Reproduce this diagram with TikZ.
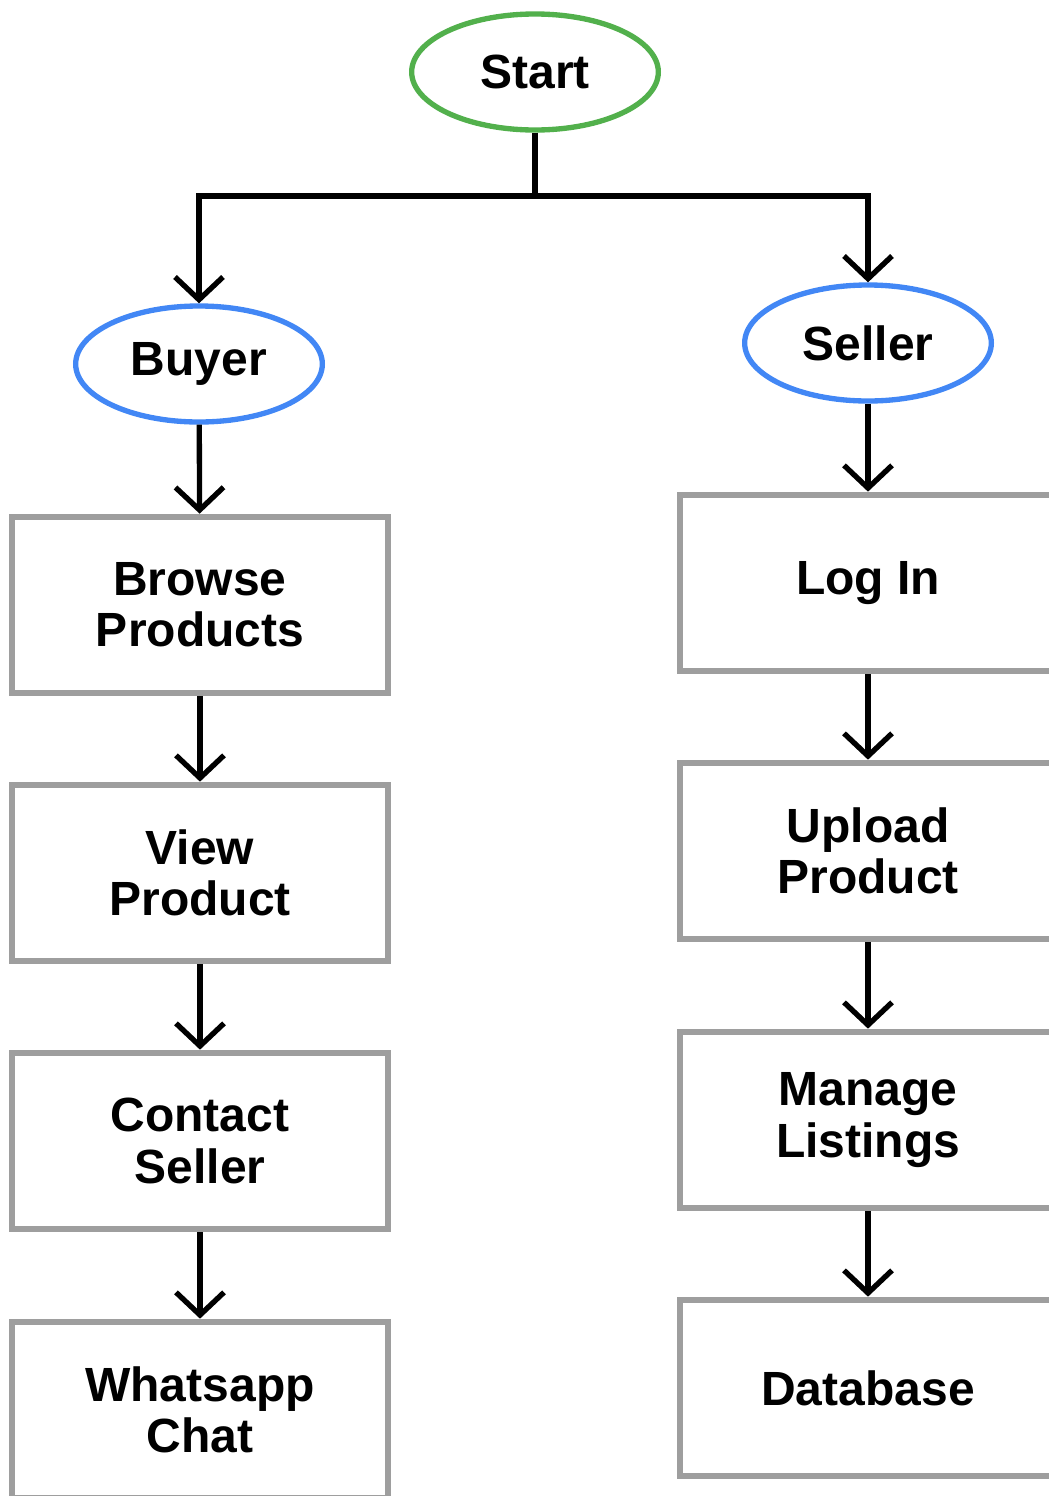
\documentclass[tikz,border=0pt]{standalone}
\usepackage{fontspec}
\setmainfont{Liberation Sans}
\usetikzlibrary{arrows.meta,shapes.geometric}
\definecolor{startgreen}{RGB}{82,176,76}
\definecolor{roleblue}{RGB}{66,135,245}
\definecolor{boxgray}{RGB}{158,158,158}

\begin{document}
\begin{tikzpicture}[x=0.75pt,y=-0.75pt,
    every node/.style={font=\fontsize{36}{38.5}\selectfont\bfseries, align=center},
    role/.style={ellipse, draw=roleblue, line width=4pt, minimum width=185pt, minimum height=87pt, inner sep=0pt},
    stepbox/.style={draw=boxgray, line width=5pt, minimum width=282pt, minimum height=132pt, inner sep=0pt},
    flow/.style={line width=4pt, -{Straight Barb[length=17pt,width=36pt]}}]
      \useasboundingbox (0,0) rectangle (1049,1496);
      \clip (0,0) rectangle (1049,1496);

      \node[role, draw=startgreen] (start) at (535,72) {Start};
      \node[role] (buyer) at (199,364) {Buyer};
      \node[role] (seller) at (868,343) {Seller};

      % buyer side
      \node[stepbox] (browse) at (200,605) {Browse\\Products};
      \node[stepbox] (view) at (200,873) {View\\Product};
      \node[stepbox] (contact) at (200,1141) {Contact\\Seller};
      \node[stepbox] (chat) at (200,1410) {Whatsapp\\Chat};

      % seller side
      \node[stepbox] (login) at (868,583) {Log In};
      \node[stepbox] (upload) at (868,851) {Upload\\Product};
      \node[stepbox] (manage) at (868,1120) {Manage\\Listings};
      \node[stepbox] (database) at (868,1388) {Database};

      \coordinate (split) at (535,196);
      \draw[line width=4pt] (start.south) -- (split);
      \draw[flow] (split) -| (buyer.north);
      \draw[flow] (split) -| (seller.north);

      \draw[flow] (buyer) -- (browse);
      \draw[flow] (browse) -- (view);
      \draw[flow] (view) -- (contact);
      \draw[flow] (contact) -- (chat);

      \draw[flow] (seller) -- (login);
      \draw[flow] (login) -- (upload);
      \draw[flow] (upload) -- (manage);
      \draw[flow] (manage) -- (database);
\end{tikzpicture}
\end{document}
